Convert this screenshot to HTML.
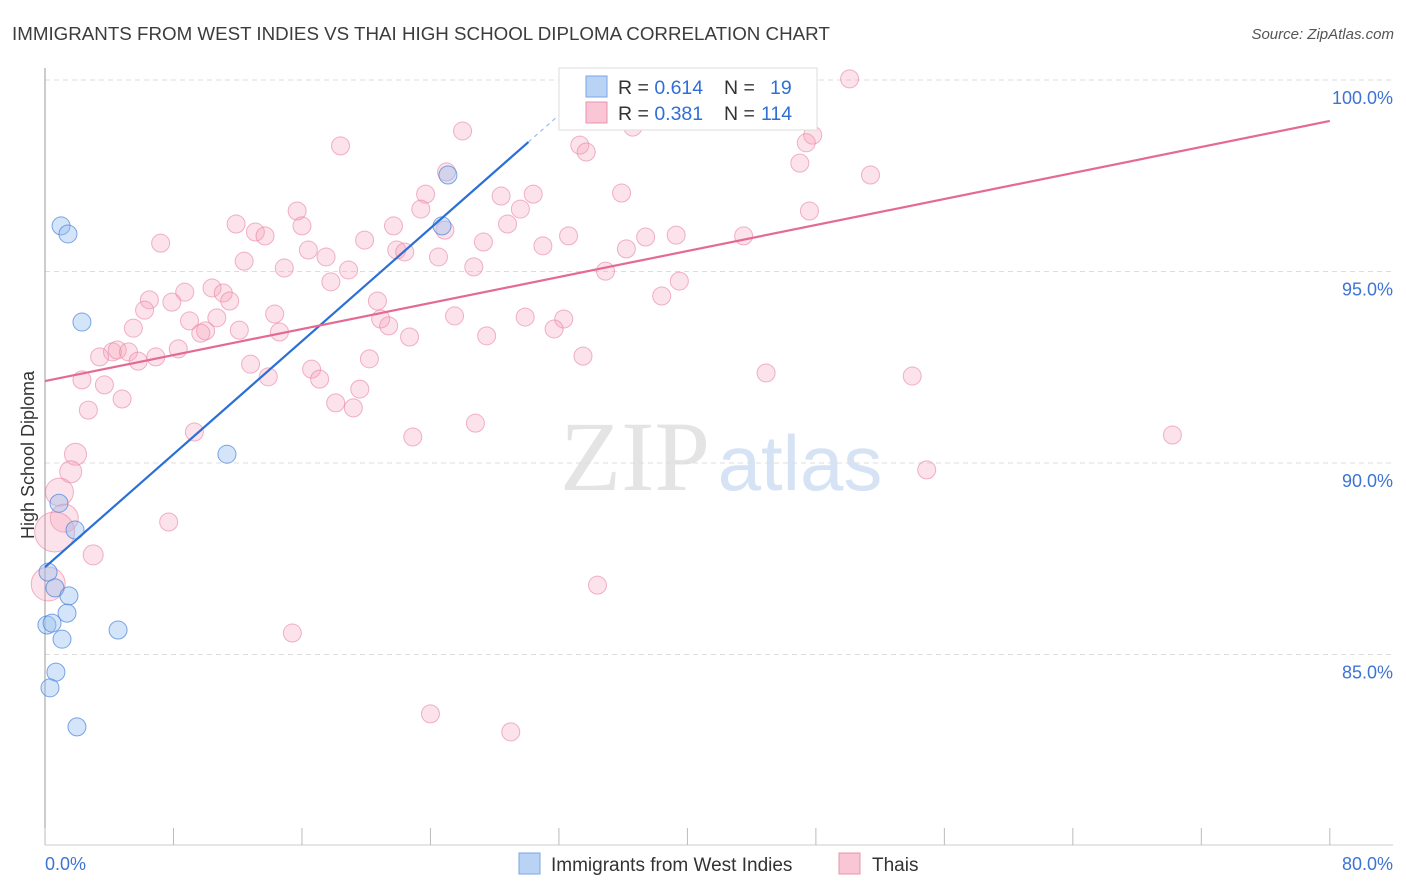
<!DOCTYPE html>
<html><head><meta charset="utf-8"><style>
body{margin:0;background:#fff;font-family:"Liberation Sans",sans-serif;}
svg{display:block}
</style></head><body>
<svg id="chart" width="1406" height="892" xmlns="http://www.w3.org/2000/svg">
<text x="12" y="40" font-size="18.75" fill="#3c3c3c">IMMIGRANTS FROM WEST INDIES VS THAI HIGH SCHOOL DIPLOMA CORRELATION CHART</text>
<text x="1394" y="39" font-size="15" font-style="italic" fill="#555" text-anchor="end">Source: ZipAtlas.com</text>
<g>
<text x="635" y="490" font-size="100" font-family="Liberation Serif,serif" fill="#e4e4e4" text-anchor="middle">ZIP</text>
<text x="800" y="490" font-size="78" fill="#d6e3f5" text-anchor="middle">atlas</text>
</g>
<g id="grid"></g>
<g id="axes"></g>
<g id="pts"></g>
<g id="lines"></g>
<text x="34" y="455" font-size="18" fill="#333" text-anchor="middle" transform="rotate(-90 34 455)">High School Diploma</text>
<g>
<rect x="559" y="68" width="258" height="62" fill="#fff" stroke="#ddd"/>
<rect x="586" y="76" width="21" height="21" fill="#b9d3f5" stroke="#7aa6e6"/>
<rect x="586" y="102" width="21" height="21" fill="#f9c6d5" stroke="#eb93ad"/>
<text x="618" y="94" font-size="19.5" fill="#333">R = <tspan fill="#2f6fd6">0.614</tspan><tspan x="724">N = </tspan><tspan x="770" fill="#2f6fd6">19</tspan></text>
<text x="618" y="120" font-size="19.5" fill="#333">R = <tspan fill="#2f6fd6">0.381</tspan><tspan x="724">N = </tspan><tspan x="761" fill="#2f6fd6">114</tspan></text>
</g>
<g>
<rect x="519" y="853" width="21" height="21" fill="#b9d3f5" stroke="#7aa6e6"/>
<text x="551" y="871" font-size="19" fill="#333">Immigrants from West Indies</text>
<rect x="839" y="853" width="21" height="21" fill="#f9c6d5" stroke="#eb93ad"/>
<text x="872" y="871" font-size="19" fill="#333">Thais</text>
</g>
</svg>
<script>
const yTicks=[100,95,90,85];
const yTickLabels=["100.0%","95.0%","90.0%","85.0%"];
const xTickLabels=["0.0%","80.0%"];
const blueX=[1.0,1.43,2.3,25.09,24.72,11.33,0.87,1.87,0.19,0.62,1.49,1.37,0.12,0.44,1.06,4.55,0.68,0.31,1.99];
const blueY=[96.19,95.98,93.68,97.52,96.19,90.23,88.95,88.25,87.15,86.74,86.53,86.08,85.77,85.82,85.40,85.64,84.54,84.13,83.11];
const pinkX=[38.7,41.7,50.1,32.8,26.0,18.4,33.3,33.7,36.6,47.8,47.4,47.0,51.4,25.0,23.7,28.4,30.4,29.6,23.4,15.7,11.9,16.0,13.1,13.7,21.7,28.8,24.9,32.6,7.2,19.9,27.3,31.0,37.4,39.3,43.5,47.6,35.9,16.4,21.9,22.4,17.5,12.4,24.5,36.2,14.9,18.9,26.7,34.9,17.8,39.5,38.4,8.7,10.4,11.1,6.5,7.9,11.5,6.2,20.7,14.3,10.7,9.0,25.5,29.9,32.3,5.5,10.0,9.7,12.1,14.6,20.9,21.4,22.7,27.5,31.7,8.3,4.2,3.4,4.5,5.2,5.8,6.9,12.8,20.2,33.5,16.6,13.9,17.1,2.3,3.7,4.8,19.6,18.1,19.2,2.7,44.9,54.0,9.3,22.9,26.8,70.2,1.9,54.9,1.6,0.9,1.2,7.7,0.6,3.0,0.2,34.4,15.4,24.0,29.0];
const pinkY=[99.95,99.95,100.03,99.22,98.67,98.28,98.30,98.12,98.77,98.56,98.36,97.83,97.52,97.60,97.02,96.97,97.02,96.63,96.63,96.58,96.24,96.19,96.03,95.93,96.19,96.24,96.08,95.93,95.74,95.82,95.77,95.67,95.90,95.95,95.93,96.58,97.05,95.56,95.56,95.51,95.38,95.27,95.38,95.59,95.09,95.04,95.12,95.01,94.73,94.75,94.36,94.46,94.57,94.44,94.26,94.20,94.23,93.99,94.23,93.89,93.79,93.71,93.84,93.81,93.76,93.52,93.45,93.39,93.47,93.42,93.76,93.58,93.29,93.32,93.50,92.98,92.90,92.77,92.95,92.90,92.66,92.77,92.58,92.72,92.79,92.45,92.25,92.19,92.17,92.04,91.67,91.93,91.57,91.44,91.38,92.35,92.27,90.81,90.68,91.04,90.73,90.23,89.82,89.77,89.24,88.56,88.46,88.20,87.60,86.84,86.81,85.56,83.45,82.98];
const pinkR=[9,9,9,9,9,9,9,9,9,9,9,9,9,9,9,9,9,9,9,9,9,9,9,9,9,9,9,9,9,9,9,9,9,9,9,9,9,9,9,9,9,9,9,9,9,9,9,9,9,9,9,9,9,9,9,9,9,9,9,9,9,9,9,9,9,9,9,9,9,9,9,9,9,9,9,9,9,9,9,9,9,9,9,9,9,9,9,9,9,9,9,9,9,9,9,9,9,9,9,9,9,11,9,11,14,14,9,20,10,17,9,9,9,9];
const blueLine=[0,87.28,30.1,98.38,32.1,99.12];
const pinkLine=[0,92.14,80,98.93];
const NS="http://www.w3.org/2000/svg";
const sx=v=>45+v*16.06;
const sy=v=>80+(100-v)*38.3;
function mk(tag,attrs,parent){const e=document.createElementNS(NS,tag);for(const k in attrs)e.setAttribute(k,attrs[k]);document.getElementById(parent).appendChild(e);return e;}
yTicks.forEach((t,i)=>{
 const g=mk('line',{x1:45,x2:1393,y1:sy(t),y2:sy(t),stroke:'#ddd','stroke-dasharray':'5,4'},'grid');
 
 
 const l=mk('text',{x:1393,y:sy(t)+24,'font-size':18,fill:'#3d74d4','text-anchor':'end'},'axes');
 l.textContent=yTickLabels[i];
 
 
});
const ax=mk('line',{x1:45,x2:45,y1:68,y2:845,stroke:'#999'},'axes');


const bx=mk('line',{x1:45,x2:1393,y1:845,y2:845,stroke:'#ccc'},'axes');


for(let i=0;i<=10;i++){
 const t=mk('line',{x1:sx(i*8),x2:sx(i*8),y1:828,y2:845,stroke:'#bbb'},'axes');
 
 
}
[[0,'start',45],[80,'end',1393]].forEach((a,i)=>{
 const l=mk('text',{x:a[2],y:870,'font-size':18,fill:'#3d74d4','text-anchor':a[1]},'axes');
 l.textContent=xTickLabels[i];
 
 
});
pinkX.forEach((x,i)=>{
 const c=mk('circle',{cx:sx(x),cy:sy(pinkY[i]),r:pinkR[i],fill:'rgba(244,160,185,0.3)',stroke:'rgba(232,130,160,0.6)','stroke-width':1},'pts');
 
 
});
blueX.forEach((x,i)=>{
 const c=mk('circle',{cx:sx(x),cy:sy(blueY[i]),r:9,fill:'rgba(150,190,240,0.4)',stroke:'rgba(70,130,220,0.7)','stroke-width':1},'pts');
 
 
});
const bl=mk('line',{x1:sx(blueLine[0]),y1:sy(blueLine[1]),x2:sx(blueLine[2]),y2:sy(blueLine[3]),stroke:'#2a6fd6','stroke-width':2.2},'lines');


const bd=mk('line',{x1:sx(blueLine[2]),y1:sy(blueLine[3]),x2:sx(blueLine[4]),y2:sy(blueLine[5]),stroke:'#9bbbe8','stroke-width':1.2,'stroke-dasharray':'4,4'},'lines');


const pl=mk('line',{x1:sx(pinkLine[0]),y1:sy(pinkLine[1]),x2:sx(pinkLine[2]),y2:sy(pinkLine[3]),stroke:'#e46a93','stroke-width':2.2},'lines');


</script>
</body></html>
